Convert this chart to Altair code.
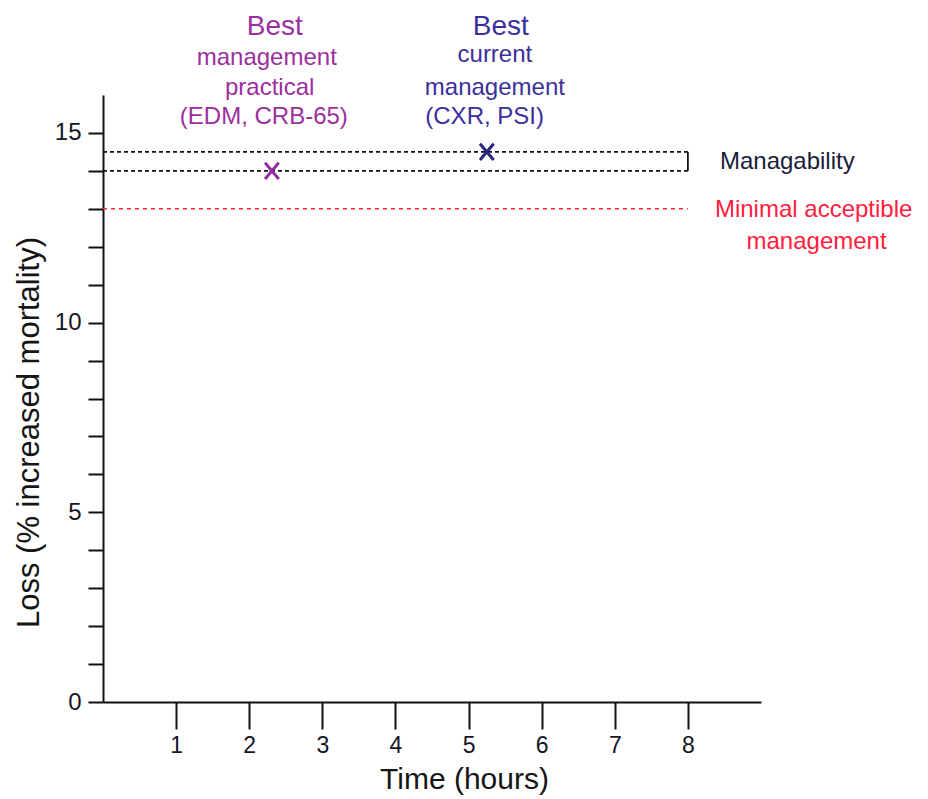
import altair as alt
import pandas as pd

# ---- data ----
x_tick_values = [1, 2, 3, 4, 5, 6, 7, 8]
y_tick_values = list(range(0, 16))

level_names = ["Managability upper", "Managability lower", "Minimal acceptible"]
level_values = [14.5, 14.0, 13.0]
level_end = 8.0

marker_names = ["Best management practical", "Best current management"]
marker_x = [2.31, 5.25]
marker_y = [14.0, 14.5]
marker_colors = ["#8e2f9f", "#26267f"]

ann_text = ["Best", "management", "practical", "(EDM, CRB-65)",
            "Best", "current", "management", "(CXR, PSI)",
            "Managability", "Minimal acceptible", "management"]
ann_x = [2.35, 2.24, 2.28, 2.20,
         5.44, 5.36, 5.36, 5.22,
         9.36, 9.72, 9.76]
ann_y = [17.59, 16.79, 16.00, 15.23,
         17.59, 16.87, 16.00, 15.23,
         14.05, 12.78, 11.95]
ann_size = [28, 24, 24, 24, 28, 24, 24, 24, 24, 24, 24]
ann_color = ["#9c2f9e"] * 4 + ["#3b2f9c"] * 4 + ["#1b1b3b", "#ff2040", "#ff2040"]

# ---- tables ----
levels = pd.DataFrame({"name": level_names, "y": level_values,
                       "x": [0.0] * 3, "x2": [level_end] * 3})
markers = pd.DataFrame({"name": marker_names, "x": marker_x, "y": marker_y,
                        "col": marker_colors})
bracket = pd.DataFrame({"x": [level_end], "y": [level_values[1]], "y2": [level_values[0]]})
ann = pd.DataFrame({"text": ann_text, "x": ann_x, "y": ann_y,
                    "fs": ann_size, "col": ann_color})

xscale = alt.Scale(domain=[0, 9], nice=False, zero=True)
yscale = alt.Scale(domain=[0, 16], nice=False, zero=True)

xaxis = alt.Axis(values=x_tick_values, title="Time (hours)", tickSize=27, tickWidth=2,
                 domainWidth=2, labelFontSize=23, labelPadding=5, titleFontSize=30,
                 titleX=361, titleY=86, titleAlign="center", titleBaseline="alphabetic",
                 grid=False, labelFlush=False)
yaxis = alt.Axis(values=y_tick_values, title="Loss (% increased mortality)",
                 labelExpr="datum.value % 5 == 0 ? datum.label : ''",
                 tickSize=15, tickWidth=2, domainWidth=2, labelFontSize=24,
                 labelPadding=7, titleFontSize=31, titleX=-65, titleY=337,
                 titleAlign="center", titleBaseline="alphabetic", grid=False,
                 labelFlush=False)


def X(field="x"):
    return alt.X(f"{field}:Q", scale=xscale, axis=xaxis)


def Y(field="y"):
    return alt.Y(f"{field}:Q", scale=yscale, axis=yaxis)


black_lines = alt.Chart(levels[levels["name"] != "Minimal acceptible"]).mark_rule(
    color="#111111", strokeDash=[4, 3], strokeWidth=1.6
).encode(x=X(), x2="x2:Q", y=Y())

red_line = alt.Chart(levels[levels["name"] == "Minimal acceptible"]).mark_rule(
    color="#ff2a2a", strokeDash=[4, 4], strokeWidth=1.6
).encode(x=X(), x2="x2:Q", y=Y())

bracket_rule = alt.Chart(bracket).mark_rule(color="#111111", strokeWidth=1.8).encode(
    x=X(), y=Y(), y2="y2:Q"
)

marks = alt.Chart(markers).mark_point(
    shape="M-0.85,-1L0.85,1M-0.85,1L0.85,-1", filled=False, strokeWidth=3,
    size=260, opacity=1
).encode(x=X(), y=Y(), color=alt.Color("col:N", scale=None))

texts = alt.Chart(ann).mark_text(
    align="center", baseline="alphabetic", font="Liberation Sans"
).encode(
    x=X(), y=Y(), text="text:N",
    size=alt.Size("fs:Q", scale=None),
    color=alt.Color("col:N", scale=None),
)

chart = alt.layer(black_lines, red_line, bracket_rule, marks, texts).properties(
    width=658, height=607,
    autosize=alt.AutoSizeParams(type="none"),
    padding={"left": 95, "top": 87, "right": 159, "bottom": 96},
).configure_view(stroke=None).configure_axis(
    domainColor="#111111", tickColor="#111111", labelColor="#151525",
    titleColor="#151515", labelFont="Liberation Sans", titleFont="Liberation Sans",
    titleFontWeight="normal",
)

chart.save("out.html", embed_options={"renderer": "svg", "actions": False})
